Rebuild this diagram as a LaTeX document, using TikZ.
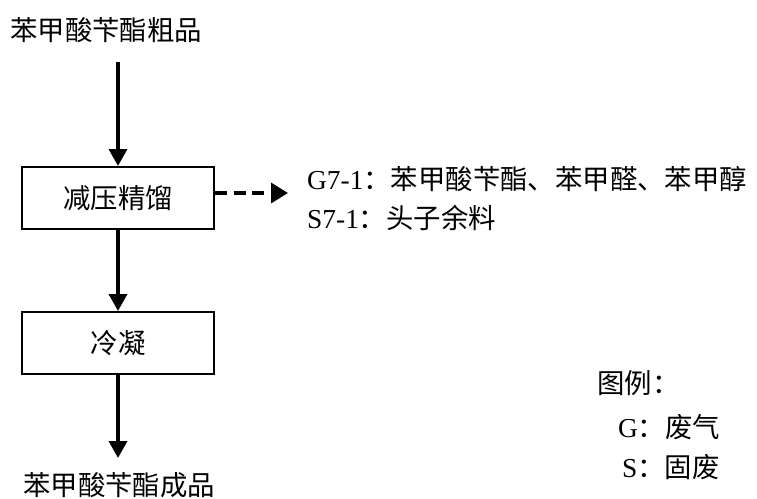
\documentclass[tikz,border=0pt]{standalone}
\usepackage{fontspec}
\setmainfont{Liberation Serif}
\newfontfamily\cjk{Noto Sans CJK SC}
\usetikzlibrary{arrows.meta}
\tikzset{
  procbox/.style={draw=black, line width=2pt, minimum width=192pt, minimum height=62pt, inner sep=0pt, font=\cjk\fontsize{27.4}{31}\selectfont},
  txt/.style={inner sep=0pt, anchor=west, font=\fontsize{27.4}{31}\selectfont},
  flow/.style={line width=3.5pt, -{Triangle[length=17pt,width=18pt]}},
  waste/.style={line width=3.5pt, dash pattern=on 12pt off 6.5pt, -{Triangle[length=17pt,width=20pt]}}
}
\begin{document}
\begin{tikzpicture}[x=1pt,y=-1pt]
\useasboundingbox (0,0) rectangle (757,498);
\node[txt] (in) at (10,30) {\cjk 苯甲酸苄酯粗品};
\node[procbox] (b1) at (118,198) {减压精馏};
\node[procbox] (b2) at (118,343) {冷凝};
\node[txt] (out) at (23,485) {\cjk 苯甲酸苄酯成品};
\coordinate (s1) at (118,62);
\coordinate (e3) at (118,458);
\coordinate (g) at (288,193);
\node[txt] (gtext) at (307,179) {G7-1{\cjk ：苯甲酸苄酯、苯甲醛、苯甲醇}};
\node[txt] (stext) at (307,218) {S7-1{\cjk ：头子余料}};
\node[txt] (leg) at (597,383) {\cjk 图例：};
\node[txt] (legg) at (618,427) {G{\cjk ：废气}};
\node[txt] (legs) at (622,467) {S{\cjk ：固废}};
\draw[flow] (s1) -- (b1.north);
\draw[flow] (b1.south) -- (b2.north);
\draw[flow] (b2.south) -- (e3);
\draw[waste] ([yshift=5pt]b1.east) -- (g);
\end{tikzpicture}
\end{document}
